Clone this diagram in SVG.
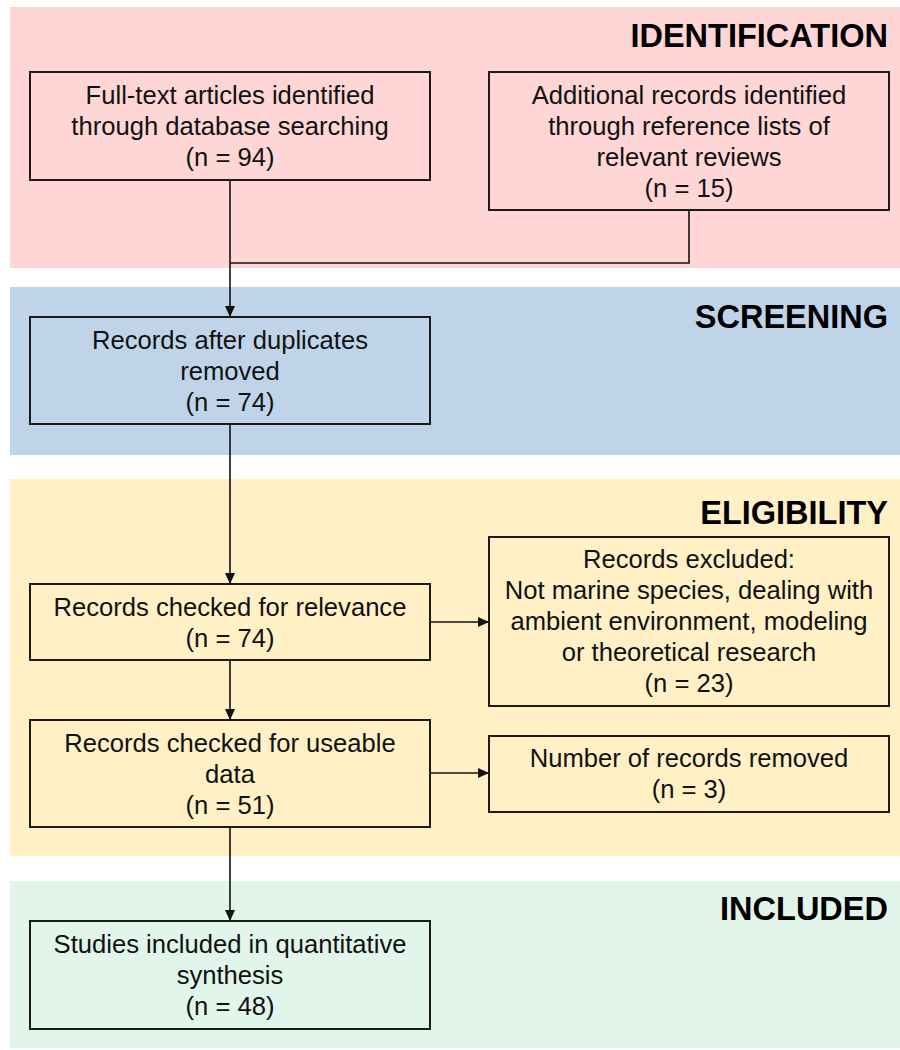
<svg xmlns="http://www.w3.org/2000/svg" width="900" height="1050" viewBox="0 0 900 1050">
<style>
.box{stroke:#1a1a1a;stroke-width:2;fill:none}
.t{font-family:"Liberation Sans",Arial,sans-serif;font-size:25.6px;fill:#111;text-anchor:middle}
.h{font-family:"Liberation Sans",Arial,sans-serif;font-size:32.5px;font-weight:bold;fill:#000;text-anchor:end}
.c{stroke:#111;stroke-width:1.6;fill:none}
</style>
<defs>
<marker id="ah" markerUnits="userSpaceOnUse" markerWidth="12" markerHeight="10" refX="11" refY="5" orient="auto">
<path d="M0,0 L11,5 L0,10 Z" fill="#111"/>
</marker>
</defs>
<rect width="900" height="1050" fill="#fff"/>
<g id="bands">
<rect x="10" y="7" width="890" height="261" fill="#ffd6d6"/>
<rect x="10" y="287" width="890" height="168" fill="#bfd4e9"/>
<rect x="10" y="479" width="890" height="377" fill="#fff0c5"/>
<rect x="10" y="881" width="890" height="167" fill="#e1f5ea"/>
<text class="h" x="888" y="47">IDENTIFICATION</text>
<text class="h" x="888" y="328">SCREENING</text>
<text class="h" x="888" y="524">ELIGIBILITY</text>
<text class="h" x="888" y="920">INCLUDED</text>
</g>
<g id="connectors">
<line class="c" x1="230" y1="180" x2="230" y2="317" marker-end="url(#ah)"/>
<polyline class="c" points="689,210 689,263 230,263"/>
<line class="c" x1="230" y1="424" x2="230" y2="584" marker-end="url(#ah)"/>
<line class="c" x1="230" y1="660" x2="230" y2="720" marker-end="url(#ah)"/>
<line class="c" x1="430" y1="622" x2="489" y2="622" marker-end="url(#ah)"/>
<line class="c" x1="230" y1="827" x2="230" y2="921" marker-end="url(#ah)"/>
<line class="c" x1="430" y1="773" x2="489" y2="773" marker-end="url(#ah)"/>
</g>
<g id="n1">
<rect class="box" x="30" y="72" width="400" height="108"/>
<text class="t" x="230" y="104">Full-text articles identified</text>
<text class="t" x="230" y="135">through database searching</text>
<text class="t" x="230" y="166">(n = 94)</text>
</g>
<g id="n2">
<rect class="box" x="489" y="72" width="400" height="138"/>
<text class="t" x="689" y="104">Additional records identified</text>
<text class="t" x="689" y="135">through reference lists of</text>
<text class="t" x="689" y="166">relevant reviews</text>
<text class="t" x="689" y="197">(n = 15)</text>
</g>
<g id="n3">
<rect class="box" x="30" y="317" width="400" height="107"/>
<text class="t" x="230" y="349">Records after duplicates</text>
<text class="t" x="230" y="380">removed</text>
<text class="t" x="230" y="411">(n = 74)</text>
</g>
<g id="n4">
<rect class="box" x="30" y="584" width="400" height="76"/>
<text class="t" x="230" y="616">Records checked for relevance</text>
<text class="t" x="230" y="647">(n = 74)</text>
</g>
<g id="n5">
<rect class="box" x="30" y="720" width="400" height="107"/>
<text class="t" x="230" y="752">Records checked for useable</text>
<text class="t" x="230" y="783">data</text>
<text class="t" x="230" y="814">(n = 51)</text>
</g>
<g id="n6">
<rect class="box" x="489" y="537" width="400" height="169"/>
<text class="t" x="689" y="568">Records excluded:</text>
<text class="t" x="689" y="599">Not marine species, dealing with</text>
<text class="t" x="689" y="630">ambient environment, modeling</text>
<text class="t" x="689" y="661">or theoretical research</text>
<text class="t" x="689" y="692">(n = 23)</text>
</g>
<g id="n7">
<rect class="box" x="489" y="736" width="400" height="76"/>
<text class="t" x="689" y="767">Number of records removed</text>
<text class="t" x="689" y="798">(n = 3)</text>
</g>
<g id="n8">
<rect class="box" x="30" y="921" width="400" height="108"/>
<text class="t" x="230" y="953">Studies included in quantitative</text>
<text class="t" x="230" y="984">synthesis</text>
<text class="t" x="230" y="1015">(n = 48)</text>
</g>
</svg>
